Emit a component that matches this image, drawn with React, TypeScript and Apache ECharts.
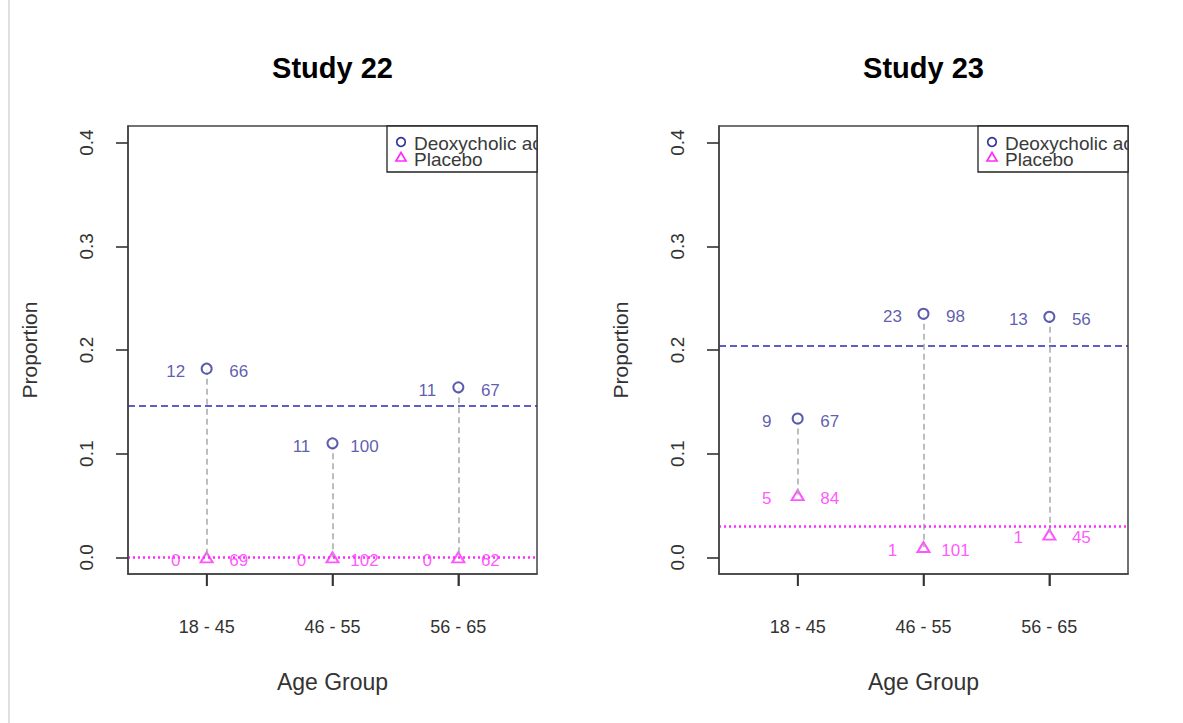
import React, { useEffect, useRef } from "react";
import * as echarts from "echarts";

const CATEGORIES = ["18 - 45", "46 - 55", "56 - 65"];
const STUDY_TITLES = ["Study 22", "Study 23"];
const LEGEND_NAMES = ["Deoxycholic acid", "Placebo"];
const Y_TICKS = [0, 0.1, 0.2, 0.3, 0.4];
const X_TICKS = [1, 2, 3];

// Study 22
const S22_DRUG_EVENTS = [12, 11, 11];
const S22_DRUG_TOTAL = [66, 100, 67];
const S22_DRUG_PROP = [0.182, 0.11, 0.164];
const S22_PBO_EVENTS = [0, 0, 0];
const S22_PBO_TOTAL = [69, 102, 62];
const S22_PBO_PROP = [0, 0, 0];
const S22_DRUG_MEAN = 0.146;
const S22_PBO_MEAN = 0.0;

// Study 23
const S23_DRUG_EVENTS = [9, 23, 13];
const S23_DRUG_TOTAL = [67, 98, 56];
const S23_DRUG_PROP = [0.134, 0.235, 0.232];
const S23_PBO_EVENTS = [5, 1, 1];
const S23_PBO_TOTAL = [84, 101, 45];
const S23_PBO_PROP = [0.06, 0.01, 0.022];
const S23_DRUG_MEAN = 0.204;
const S23_PBO_MEAN = 0.030;

const FONT = "Liberation Sans, Arial, sans-serif";
const BLUE = "#34349c";
const BLUE_LINE = "#2a2ab8";
const MAGENTA = "#ff2bff";
const GRAY = "#a8a8a8";
const DARK = "#333333";

const PANEL_LEFT = [128, 719];
const PANEL_WIDTH = 409;
const PANEL_TOP = 126;
const PANEL_HEIGHT = 448;
const Y_MIN = -0.016;
const Y_MAX = 0.416;

export default function App() {
  const ref = useRef<HTMLDivElement>(null);

  useEffect(() => {
    if (!ref.current) return;
    const chart = echarts.init(ref.current, null, { renderer: "svg" });

    const studies = [
      {
        drugEv: S22_DRUG_EVENTS, drugN: S22_DRUG_TOTAL, drugP: S22_DRUG_PROP,
        pboEv: S22_PBO_EVENTS, pboN: S22_PBO_TOTAL, pboP: S22_PBO_PROP,
        drugMean: S22_DRUG_MEAN, pboMean: S22_PBO_MEAN,
      },
      {
        drugEv: S23_DRUG_EVENTS, drugN: S23_DRUG_TOTAL, drugP: S23_DRUG_PROP,
        pboEv: S23_PBO_EVENTS, pboN: S23_PBO_TOTAL, pboP: S23_PBO_PROP,
        drugMean: S23_DRUG_MEAN, pboMean: S23_PBO_MEAN,
      },
    ];

    const grids = PANEL_LEFT.map((l) => ({
      left: l,
      top: PANEL_TOP,
      width: PANEL_WIDTH,
      height: PANEL_HEIGHT,
      show: true,
      borderColor: "#444",
      borderWidth: 1.5,
      backgroundColor: "transparent",
    }));

    const xAxes = PANEL_LEFT.map((_, i) => ({
      type: "value",
      gridIndex: i,
      position: "bottom",
      min: 0.375,
      max: 3.625,
      splitLine: { show: false },
      axisLine: { show: true, onZero: false, lineStyle: { color: "#444", width: 1.5 } },
      axisTick: {
        show: true,
        inside: false,
        length: 12,
        lineStyle: { color: "#333", width: 1.6 },
        customValues: X_TICKS,
      },
      axisLabel: {
        show: true,
        customValues: X_TICKS,
        formatter: (v: number) => CATEGORIES[Math.round(v) - 1] ?? "",
        margin: 44,
        fontSize: 18,
        color: DARK,
        fontFamily: FONT,
      },
      name: "Age Group",
      nameLocation: "middle",
      nameGap: 96,
      nameTextStyle: { fontSize: 23, color: DARK, fontFamily: FONT },
      z: 10,
    }));

    const yAxes = PANEL_LEFT.map((_, i) => ({
      type: "value",
      gridIndex: i,
      position: "left",
      min: Y_MIN,
      max: Y_MAX,
      splitLine: { show: false },
      axisLine: { show: true, onZero: false, lineStyle: { color: "#444", width: 1.5 } },
      axisTick: {
        show: true,
        inside: false,
        length: 12,
        lineStyle: { color: "#333", width: 1.6 },
        customValues: Y_TICKS,
      },
      axisLabel: {
        show: true,
        customValues: Y_TICKS,
        formatter: (v: number) => v.toFixed(1),
        rotate: 90,
        margin: 32,
        fontSize: 19,
        color: DARK,
        fontFamily: FONT,
      },
      name: "Proportion",
      nameLocation: "middle",
      nameRotate: 90,
      nameGap: 88,
      nameTextStyle: { fontSize: 21, color: DARK, fontFamily: FONT },
      z: 10,
    }));

    const series: any[] = [];
    studies.forEach((s, i) => {
      const axis = { xAxisIndex: i, yAxisIndex: i };
      series.push({
        type: "scatter",
        name: LEGEND_NAMES[0],
        ...axis,
        symbol: "emptyCircle",
        symbolSize: 10,
        itemStyle: { color: BLUE, borderColor: BLUE, borderWidth: 1.7 },
        data: s.drugP.map((p, k) => [k + 1, p]),
        markLine: {
          silent: true,
          symbol: "none",
          precision: 5,
          label: { show: false },
          lineStyle: { color: BLUE_LINE, type: [7, 4], width: 1.6 },
          data: [
            { yAxis: s.drugMean },
            ...CATEGORIES.map((_, k) => [
              { coord: [k + 1, s.drugP[k]], lineStyle: { color: GRAY, type: [6, 4], width: 1.5 } },
              { coord: [k + 1, s.pboP[k]] },
            ]),
          ],
        },
        z: 5,
      });
      series.push({
        type: "scatter",
        name: LEGEND_NAMES[1],
        ...axis,
        symbol: "emptyTriangle",
        symbolSize: [12, 10],
        itemStyle: { color: MAGENTA, borderColor: MAGENTA, borderWidth: 1.7 },
        data: s.pboP.map((p, k) => [k + 1, p]),
        markLine: {
          silent: true,
          symbol: "none",
          precision: 5,
          label: { show: false },
          lineStyle: { color: MAGENTA, type: [2, 3], width: 2.5 },
          data: [{ yAxis: s.pboMean }],
        },
        z: 4,
      });
      const labelSeries = (
        vals: number[],
        props: number[],
        color: string,
        dx: number
      ) => ({
        type: "scatter",
        ...axis,
        symbol: "circle",
        symbolSize: 1,
        silent: true,
        itemStyle: { color: "transparent" },
        data: props.map((p, k) => [k + 1, p, vals[k]]),
        label: {
          show: true,
          position: "inside",
          offset: [dx, 3],
          formatter: (d: any) => String(d.value[2]),
          color,
          fontSize: 17,
          fontFamily: FONT,
        },
        z: 6,
      });
      series.push(labelSeries(s.drugEv, s.drugP, BLUE, -31));
      series.push(labelSeries(s.drugN, s.drugP, BLUE, 32));
      series.push(labelSeries(s.pboEv, s.pboP, MAGENTA, -31));
      series.push(labelSeries(s.pboN, s.pboP, MAGENTA, 32));
    });

    const graphic: any[] = [
      {
        type: "line",
        shape: { x1: 9, y1: 0, x2: 9, y2: 723 },
        style: { stroke: "#d6d6d6", lineWidth: 1.5 },
        silent: true,
      },
    ];
    PANEL_LEFT.forEach((l, i) => {
      const right = l + PANEL_WIDTH;
      const cx = l + PANEL_WIDTH / 2;
      graphic.push({
        type: "text",
        x: cx,
        y: 68,
        style: {
          text: STUDY_TITLES[i],
          fontSize: 29,
          fontWeight: "bold",
          fontFamily: FONT,
          fill: "#000",
          align: "center",
          verticalAlign: "middle",
        },
      });
      const lx = right - 150;
      graphic.push({
        type: "rect",
        shape: { x: lx, y: PANEL_TOP, width: 150, height: 46 },
        style: { fill: "#fff", stroke: "#222", lineWidth: 1.3 },
        z: 10,
      });
      graphic.push({
        type: "circle",
        shape: { cx: lx + 14, cy: 142, r: 4.3 },
        style: { fill: "#fff", stroke: BLUE, lineWidth: 1.7 },
        z: 11,
      });
      graphic.push({
        type: "polygon",
        shape: { points: [[lx + 14, 152.5], [lx + 19, 161], [lx + 9, 161]] },
        style: { fill: "#fff", stroke: MAGENTA, lineWidth: 1.7 },
        z: 11,
      });
      graphic.push({
        type: "text",
        x: lx + 27,
        y: 143.5,
        style: {
          text: LEGEND_NAMES[0],
          fontSize: 19,
          fontFamily: FONT,
          fill: "#3a3a3a",
          align: "left",
          verticalAlign: "middle",
        },
        z: 11,
      });
      graphic.push({
        type: "text",
        x: lx + 27,
        y: 159.5,
        style: {
          text: LEGEND_NAMES[1],
          fontSize: 19,
          fontFamily: FONT,
          fill: "#3a3a3a",
          align: "left",
          verticalAlign: "middle",
        },
        z: 11,
      });
      graphic.push({
        type: "rect",
        shape: { x: right + 1, y: PANEL_TOP - 2, width: 60, height: 50 },
        style: { fill: "#fff" },
        z: 12,
      });
    });

    chart.setOption({
      animation: false,
      backgroundColor: "#ffffff",
      grid: grids,
      xAxis: xAxes,
      yAxis: yAxes,
      series,
      graphic,
    });

    // x-axis tick marks, positioned through the axes' own scales
    const tickMarks: any[] = [];
    PANEL_LEFT.forEach((_, i) => {
      X_TICKS.forEach((v) => {
        const p = chart.convertToPixel({ xAxisIndex: i, yAxisIndex: i } as any, [v, Y_MIN]) as number[];
        if (p && isFinite(p[0]) && isFinite(p[1])) {
          tickMarks.push({
            type: "line",
            shape: { x1: p[0], y1: p[1], x2: p[0], y2: p[1] + 12 },
            style: { stroke: "#333", lineWidth: 1.6 },
            silent: true,
            z: 20,
          });
        }
      });
    });
    chart.setOption({ graphic: [...graphic, ...tickMarks] });

    return () => chart.dispose();
  }, []);

  return (
    <div
      ref={ref}
      style={{ position: "absolute", left: 0, top: 0, width: 1183, height: 723 }}
    />
  );
}
